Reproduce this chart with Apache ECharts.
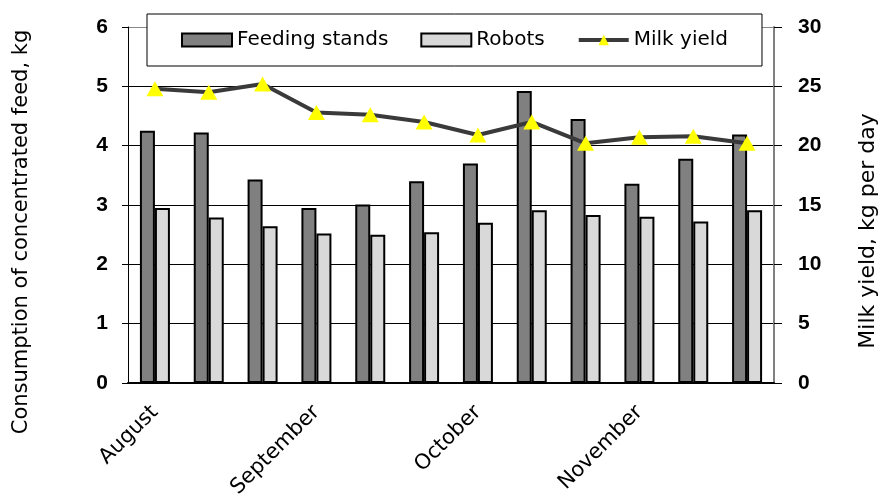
<!DOCTYPE html>
<head>
    <meta charset="utf-8">
    <title>Feed and milk yield</title>
    <script src="https://cdn.jsdelivr.net/npm/echarts@6/dist/echarts.min.js"></script>
</head>
<body style="margin:0;background:#fff">
<div id="main" style="width:880px;height:502px"></div>
<script type="text/javascript">
// 12 points, Aug - Nov; only the month starts carry a label
var categories = ['August', '', '', 'September', '', '', 'October', '', '', 'November', '', ''];
var feedingStands = [4.25, 4.22, 3.43, 2.95, 3.01, 3.40, 3.70, 4.92, 4.45, 3.36, 3.78, 4.19];
var robots = [2.95, 2.79, 2.64, 2.52, 2.50, 2.54, 2.70, 2.91, 2.83, 2.80, 2.72, 2.91];
var milkYield = [24.8, 24.5, 25.2, 22.8, 22.6, 22.0, 20.9, 22.0, 20.2, 20.7, 20.8, 20.2];
var leftTicks = [0, 1, 2, 3, 4, 5, 6];
var rightTicks = [0, 5, 10, 15, 20, 25, 30];

var myChart = echarts.init(document.getElementById('main'));
var sans = 'DejaVu Sans';
var arial = 'Liberation Sans, Arial';

var option = {
    animation: false,
    backgroundColor: '#fff',
    grid: { left: 128, right: 106, top: 27, bottom: 119 },
    legend: {
        left: 147, top: 14,
        padding: [16, 34, 16, 34],
        itemGap: 32,
        itemWidth: 50, itemHeight: 13,
        borderColor: '#000', borderWidth: 1,
        backgroundColor: '#fff',
        textStyle: { fontFamily: sans, fontSize: 20, color: '#000' },
        data: [
            { name: 'Feeding stands', icon: 'rect' },
            { name: 'Robots', icon: 'rect' },
            { name: 'Milk yield', lineStyle: { width: 4, color: '#3a3a3a' } }
        ]
    },
    xAxis: {
        type: 'category',
        data: categories,
        axisLine: { lineStyle: { color: '#000', width: 2 } },
        axisTick: { interval: 0, length: 7, lineStyle: { color: '#000' } },
        axisLabel: {
            interval: 0, rotate: 45, margin: 26,
            padding: [22, 0, 0, 0],
            fontFamily: sans, fontSize: 21, color: '#000'
        }
    },
    yAxis: [{
        type: 'value', min: leftTicks[0], max: leftTicks[leftTicks.length - 1], interval: 1,
        axisLine: { show: true, lineStyle: { color: '#000', width: 1 } },
        axisTick: { show: true, length: 6, lineStyle: { color: '#000' } },
        axisLabel: { margin: 20, fontFamily: arial, fontWeight: 'bold', fontSize: 21, color: '#000' },
        splitLine: { lineStyle: { color: ['#000', '#000', '#000', '#000', '#000', '#000', '#888'], width: 1 } }
    }, {
        type: 'value', min: rightTicks[0], max: rightTicks[rightTicks.length - 1], interval: 5,
        axisLine: { show: true, lineStyle: { color: '#808080', width: 2 } },
        axisTick: { show: true, length: 8, lineStyle: { color: '#000' } },
        axisLabel: { margin: 24, fontFamily: arial, fontWeight: 'bold', fontSize: 21, color: '#000' },
        splitLine: { show: false }
    }],
    graphic: [{
        type: 'text', x: 22, y: 232, rotation: Math.PI / 2,
        style: { text: 'Consumption of concentrated feed, kg', fontFamily: sans, fontSize: 21,
                 fill: '#000', align: 'center', verticalAlign: 'middle' }
    }, {
        type: 'text', x: 868, y: 231, rotation: Math.PI / 2,
        style: { text: 'Milk yield, kg per day', fontFamily: sans, fontSize: 22,
                 fill: '#000', align: 'center', verticalAlign: 'middle' }
    }],
    series: [{
        name: 'Feeding stands', type: 'bar', data: feedingStands,
        barWidth: 15, barGap: '0%',
        itemStyle: { color: '#808080', borderColor: '#000', borderWidth: 2 }
    }, {
        name: 'Robots', type: 'bar', data: robots,
        barWidth: 15,
        itemStyle: { color: '#d9d9d9', borderColor: '#000', borderWidth: 2 }
    }, {
        name: 'Milk yield', type: 'line', yAxisIndex: 1, data: milkYield,
        symbol: 'triangle', symbolSize: [17, 15],
        lineStyle: { color: '#3a3a3a', width: 4 },
        itemStyle: { color: '#ffff00', borderWidth: 0 },
        z: 5
    }]
};
myChart.setOption(option);
</script>
</body>
